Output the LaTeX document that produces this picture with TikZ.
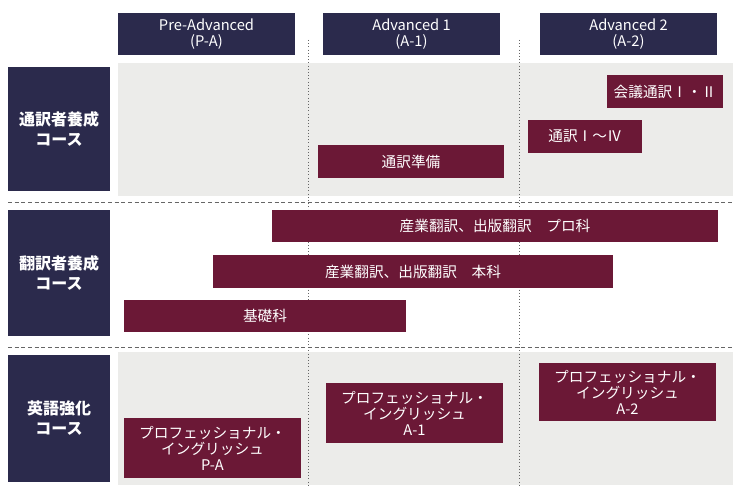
\documentclass[tikz,border=0pt]{standalone}
\usepackage{fontspec}
\setmainfont{Noto Sans CJK JP}
\definecolor{navy}{HTML}{2B2A4C}
\definecolor{wine}{HTML}{6B1836}
\definecolor{bggray}{HTML}{ECECEA}
\begin{document}
\begin{tikzpicture}[x=0.75pt,y=-0.75pt]
        \tikzstyle{head}=[fill=navy,text=white,font=\fontsize{11}{12}\selectfont,align=center,inner sep=0pt]
        \tikzstyle{course}=[fill=navy,text=white,font=\bfseries\fontsize{12}{15}\selectfont,align=center,inner sep=0pt]
        \tikzstyle{lesson}=[fill=wine,text=white,font=\fontsize{11}{12}\selectfont,align=center,inner sep=0pt]
        \tikzstyle{sep}=[draw=black!60,densely dashed,thin]
        \useasboundingbox (0,0) rectangle (737,488);
        % backgrounds
        \fill[bggray] (118,63) rectangle (733,196);
        \fill[bggray] (118,352) rectangle (733,485);
        % separators
        \coordinate (h1a) at (8,202);  \coordinate (h1b) at (733,202);
        \coordinate (h2a) at (8,347);  \coordinate (h2b) at (733,347);
        \coordinate (v1a) at (308,40); \coordinate (v1b) at (308,485);
        \coordinate (v2a) at (519,40); \coordinate (v2b) at (519,485);
        \draw[sep] (h1a) -- (h1b);
        \draw[sep] (h2a) -- (h2b);
        \draw[sep,dotted] (v1a) -- (v1b);
        \draw[sep,dotted] (v2a) -- (v2b);
        % levels
        \node [head,minimum width=177*0.75pt,minimum height=42*0.75pt] (pa) at (206.5,34) {Pre-Advanced\\(P-A)};
        \node [head,minimum width=177*0.75pt,minimum height=42*0.75pt] (a1) at (411.5,34) {Advanced 1\\(A-1)};
        \node [head,minimum width=177*0.75pt,minimum height=42*0.75pt] (a2) at (628.5,34) {Advanced 2\\(A-2)};
        % courses
        \node [course,minimum width=102*0.75pt,minimum height=124*0.75pt] (interp) at (59,129) {通訳者養成\\コース};
        \node [course,minimum width=102*0.75pt,minimum height=126*0.75pt] (trans) at (59,273) {翻訳者養成\\コース};
        \node [course,minimum width=102*0.75pt,minimum height=127*0.75pt] (eng) at (59,418.5) {英語強化\\コース};
        % classes
        \node [lesson,minimum width=116*0.75pt,minimum height=33*0.75pt] (kaigi) at (665,91.5) {会議通訳Ⅰ・Ⅱ};
        \node [lesson,minimum width=114*0.75pt,minimum height=33*0.75pt] (tsuyaku) at (585,136.5) {通訳Ⅰ～Ⅳ};
        \node [lesson,minimum width=186*0.75pt,minimum height=33*0.75pt] (junbi) at (411,161.5) {通訳準備};
        \node [lesson,minimum width=446*0.75pt,minimum height=32*0.75pt] (pro) at (495,226) {産業翻訳、出版翻訳　プロ科};
        \node [lesson,minimum width=400*0.75pt,minimum height=33*0.75pt] (honka) at (413,271.5) {産業翻訳、出版翻訳　本科};
        \node [lesson,minimum width=282*0.75pt,minimum height=32*0.75pt] (kiso) at (265,316) {基礎科};
        \node [lesson,minimum width=177*0.75pt,minimum height=60*0.75pt] (pepa) at (212.5,448) {プロフェッショナル・\\イングリッシュ\\P-A};
        \node [lesson,minimum width=177*0.75pt,minimum height=60*0.75pt] (pea1) at (414.5,413) {プロフェッショナル・\\イングリッシュ\\A-1};
        \node [lesson,minimum width=177*0.75pt,minimum height=58*0.75pt] (pea2) at (627.5,392) {プロフェッショナル・\\イングリッシュ\\A-2};
\end{tikzpicture}
\end{document}
